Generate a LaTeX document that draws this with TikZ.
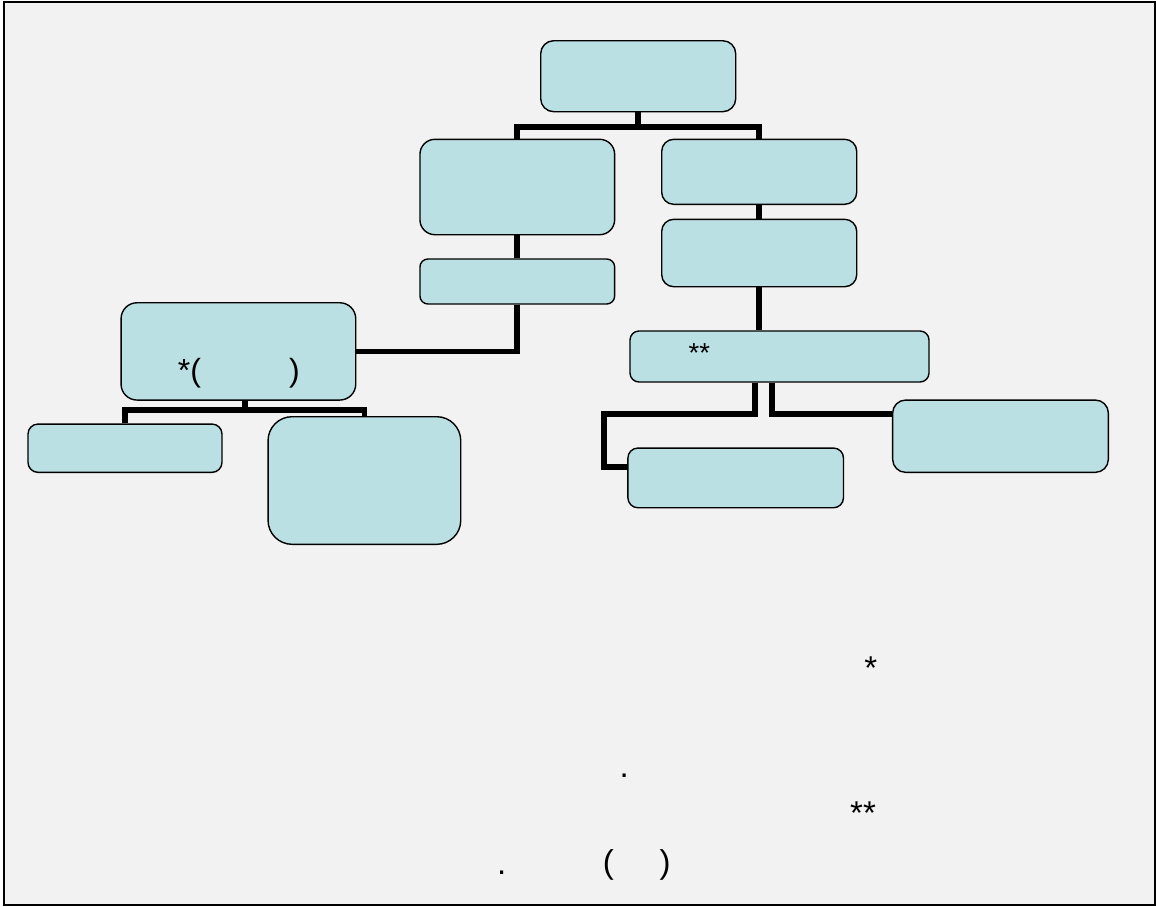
\documentclass[tikz,border=0pt]{standalone}
\usepackage{fontspec}
\setmainfont{Liberation Sans}
\usetikzlibrary{calc}
\definecolor{boxfill}{RGB}{187,224,227}
\definecolor{pagegray}{RGB}{242,242,242}
\tikzset{
    box/.style={
        draw, line width=1.4pt, fill=boxfill, rounded corners=#1,
        inner sep=0pt
    },
    box/.default=12pt,
    link/.style={line width=5.7pt, line join=miter},
    glyph/.style={
        inner sep=0pt, anchor=base,
        font=\fontsize{#1}{#1}\selectfont
    },
    glyph/.default=33
}
\begin{document}
\begin{tikzpicture}[x=1pt,y=-1pt]
\useasboundingbox (0,0) rectangle (1156,906);
\draw[line width=2.2pt, fill=pagegray] (3.8,2) rectangle (1154.8,904.8);
\node[box=13pt, minimum width=195pt, minimum height=71pt] (top) at (638.2,76.2) {};
\node[box=15pt, minimum width=194.7pt, minimum height=95.4pt] (left1) at (517.3,187) {};
\node[box=8pt, minimum width=194.7pt, minimum height=45pt] (left2) at (517.3,281.5) {};
\node[box=12pt, minimum width=195pt, minimum height=65pt] (right1) at (759.2,171.8) {};
\node[box=12pt, minimum width=195pt, minimum height=67.4pt] (right2) at (759.2,253) {};
\node[box=9pt, minimum width=299pt, minimum height=51pt] (right3) at (779.5,356.5) {};
\node[box=16pt, minimum width=234.7pt, minimum height=97.3pt] (leftmain) at (238.4,351.4) {};
\node[box=10pt, minimum width=194pt, minimum height=48.3pt] (leafa) at (125,448.2) {};
\node[box=24pt, minimum width=192.7pt, minimum height=127.6pt] (leafb) at (364.4,480.5) {};
\node[box=10pt, minimum width=215.6pt, minimum height=59.7pt] (rleafa) at (735.7,477.9) {};
\node[box=13pt, minimum width=215.7pt, minimum height=72.3pt] (rleafb) at (1000.5,436.2) {};
\draw[link] (top.south) -- ++(0,14.5) -| (left1.north);
\draw[link] (top.south) -- ++(0,14.5) -| (right1.north);
\draw[link] (left1.south) -- (left2.north);
\draw[link] (left2.south) |- (leftmain.east);
\draw[link] (right1.south) -- (right2.north);
\draw[link] (right2.south) -- (right2.south |- right3.north);
\coordinate (lmjoin) at (244.7,410);
\draw[link] (lmjoin |- leftmain.south) -- (lmjoin);
\draw[link] (leafa.north) |- (lmjoin) -| (leafb.north);
\coordinate (rjoinl) at (755,414.3);
\coordinate (rjoinr) at (772,414.3);
\coordinate (rbend) at (604.2,466.7);
\draw[link] (rjoinl |- right3.south) -- (rjoinl) -| (rbend) -- (rbend -| rleafa.west);
\draw[link] (rjoinr |- right3.south) -- (rjoinr) -- (rjoinr -| rleafb.west);
\node[glyph=32] (lmopen) at (189.5,381.6) {*(};
\node[glyph=32] (lmclose) at (294.5,381.6) {)};
\node[glyph=27.5] (rstars) at (699.3,362) {**};
\node[glyph] (notea) at (870.7,679) {*};
\node[glyph] (noteb) at (624.3,777) {.};
\node[glyph] (notec) at (863,824) {**};
\node[glyph] (noted) at (501.7,874) {.};
\node[glyph] (notee) at (608.3,873) {(};
\node[glyph] (notef) at (665,873) {)};
\end{tikzpicture}
\end{document}
